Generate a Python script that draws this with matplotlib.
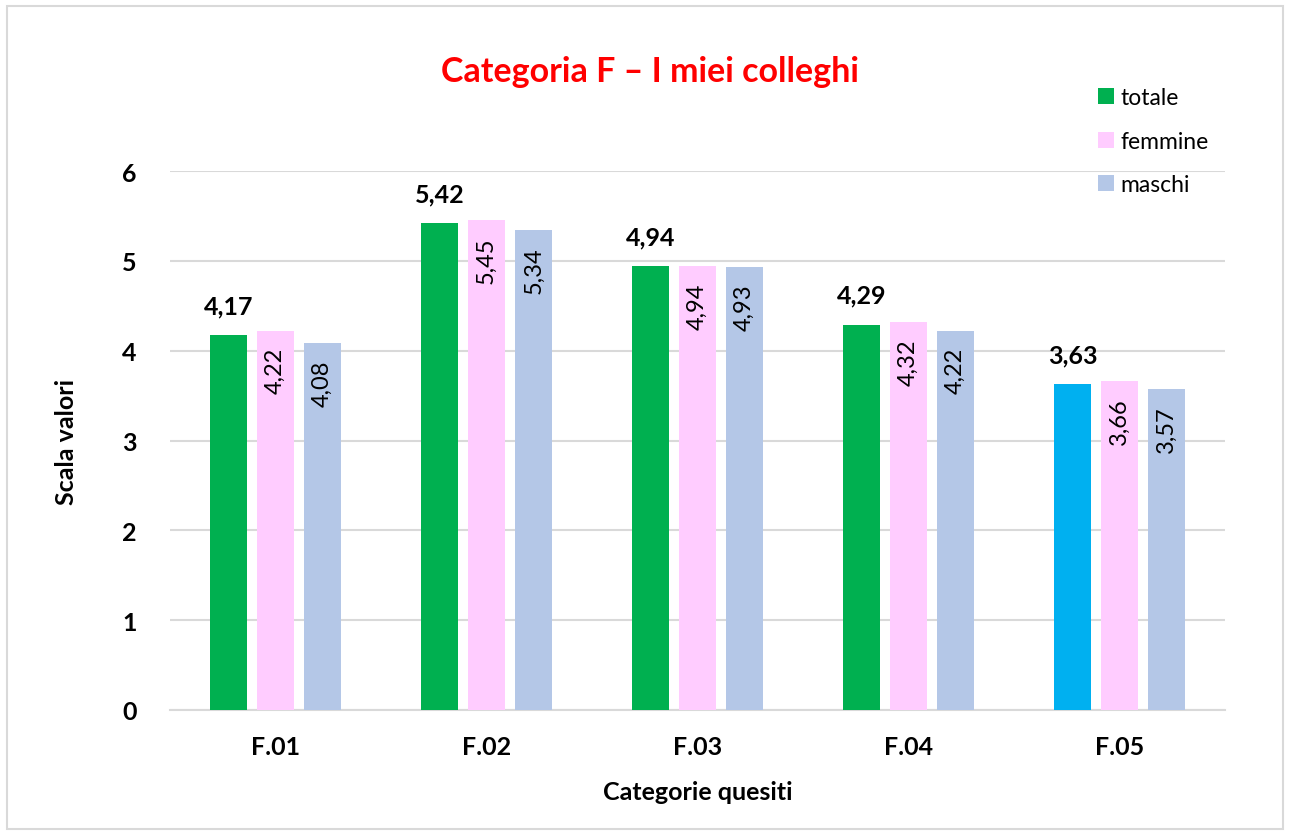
import numpy as np
import matplotlib.pyplot as plt
from matplotlib.patches import Rectangle

categories = ['F.01', 'F.02', 'F.03', 'F.04', 'F.05']
totale = [4.17, 5.42, 4.94, 4.29, 3.63]
femmine = [4.22, 5.45, 4.94, 4.32, 3.66]
maschi = [4.08, 5.34, 4.93, 4.22, 3.57]
totale_colors = ['#00B050', '#00B050', '#00B050', '#00B050', '#00B0F0']

plt.rcParams['font.family'] = ['Lato', 'DejaVu Sans']

fig = plt.figure(figsize=(12.91, 8.37), dpi=100)
fig.patches.append(Rectangle((7/1291, 7/837), 1276/1291, 823/837, transform=fig.transFigure,
                             fill=False, edgecolor='#D9D9D9', lw=1.5))
ax = fig.add_axes([170/1291, 1-711/837, 1055/1291, (711-172)/837])

x = np.arange(len(categories))
w = 0.175
step = 0.223

ax.bar(x - step, totale, w, color=totale_colors, label='totale', zorder=3)
ax.bar(x, femmine, w, color='#FFCCFF', label='femmine', zorder=3)
ax.bar(x + step, maschi, w, color='#B4C7E7', label='maschi', zorder=3)

for xi, v in zip(x - step, totale):
    ax.text(xi, v + 0.2, f'{v:.2f}'.replace('.', ','), ha='center', va='bottom',
            fontsize=18, fontweight='bold', zorder=4)
for xs, vals in ((x, femmine), (x + step, maschi)):
    for xi, v in zip(xs, vals):
        ax.text(xi, v - 0.18, f'{v:.2f}'.replace('.', ','), ha='center', va='top',
                rotation=90, fontsize=17, zorder=4)

ax.set_xlim(-0.5, 4.5)
ax.set_ylim(0, 6)
ax.set_yticks(range(7))
ax.set_xticks(x)
ax.set_xticklabels(categories)
ax.tick_params(length=0, labelsize=18)
ax.tick_params(axis='x', pad=18)
ax.tick_params(axis='y', pad=24)
for lab in ax.get_xticklabels() + ax.get_yticklabels():
    lab.set_fontweight('bold')
ax.grid(axis='y', color='#D9D9D9', lw=1.5, zorder=0)
for s in ['top', 'right', 'left']:
    ax.spines[s].set_visible(False)
ax.spines['bottom'].set_color('#D9D9D9')
ax.spines['bottom'].set_linewidth(1.5)

ax.set_ylabel('Scala valori', fontsize=18, fontweight='bold', labelpad=32)
ax.set_xlabel('Categorie quesiti', fontsize=18, fontweight='bold', labelpad=16)
fig.text(650/1291, 1-72/837, 'Categoria F \u2013 I miei colleghi', color='#FF0000',
         fontsize=24.5, fontweight='bold', ha='center', va='center')

ax.legend(loc='upper left', bbox_to_anchor=(1077/1291, 1-67/837),
          bbox_transform=fig.transFigure, frameon=False, fontsize=16.5,
          handlelength=0.7, handleheight=0.7, handletextpad=0.3, labelspacing=1.0)

fig.savefig('out.png', dpi=100)
